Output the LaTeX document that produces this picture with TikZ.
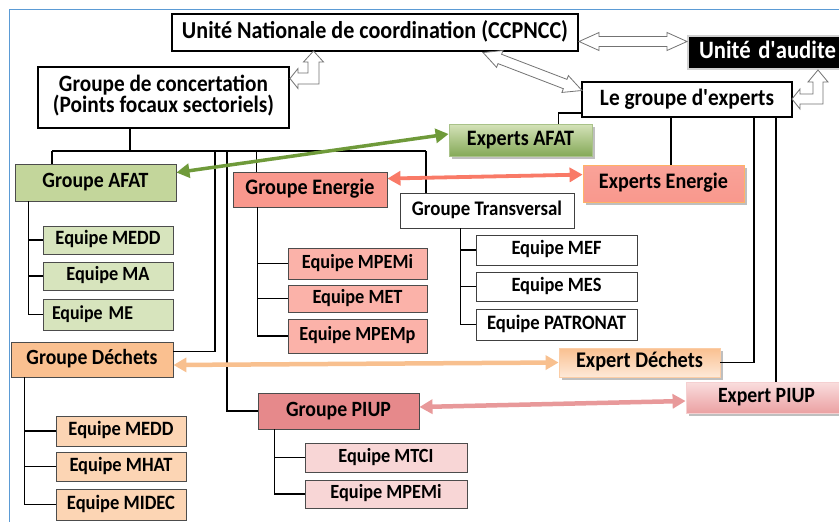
\documentclass[tikz,border=0pt]{standalone}
\usepackage{fontspec}
\setmainfont{Carlito}
\usepackage{graphicx}
\usetikzlibrary{arrows.meta,shadows,calc}
\definecolor{framec}{HTML}{5B9BD5}
\definecolor{cafat}{HTML}{C3D69B}
\definecolor{cafate}{HTML}{D7E4BD}
\definecolor{cener}{HTML}{F9988D}
\definecolor{cenere}{HTML}{FBB2A9}
\definecolor{cdec}{HTML}{FAC090}
\definecolor{cdece}{HTML}{FCD5B4}
\definecolor{cpiup}{HTML}{E6898B}
\definecolor{cpiupe}{HTML}{F8D6D6}
\definecolor{agreen}{HTML}{6F9A3A}
\definecolor{asalmon}{HTML}{F97A67}
\definecolor{apeach}{HTML}{F8C08F}
\definecolor{apink}{HTML}{E8999A}
\newcommand\fw[2]{\scalebox{1}[1.1]{\resizebox{#1pt}{!}{#2\strut}}}
\newcommand\apos{\textquotesingle}
\begin{document}
\begin{tikzpicture}[x=1pt,y=-1pt,
  treeline/.style={line width=1.6pt, black},
  bigbox/.style={draw=black, line width=1.8pt, fill=white, inner sep=0pt, font=\bfseries},
  gbox/.style={draw=black!70, line width=0.9pt, inner sep=0pt, font=\bfseries},
  wbox/.style={draw=black!75, line width=0.8pt, fill=white, inner sep=0pt, font=\bfseries},
  gradbox/.style={inner sep=0pt, line width=0.8pt, font=\bfseries,
     drop shadow={shadow xshift=2.5pt, shadow yshift=-2.5pt, opacity=0.25, fill=black}},
  hollow/.style={draw=black!55, fill=white, line width=0.8pt, line join=miter},
  colarrow/.style={line width=#1, {Triangle[length=13pt,width=14pt]}-{Triangle[length=13pt,width=14pt]}},
]
\path[use as bounding box] (0,0) rectangle (839,522);
\clip (0,0) rectangle (839,522);
\fill[white] (0,0) rectangle (839,522);
\draw[framec, line width=1.5pt] (9.5,522) -- (9.5,9.5) -- (839,9.5);

% top level
\node[bigbox, minimum width=406, minimum height=37] (unc) at (375,32.5)
  {\fw{386}{Unité Nationale de coordination (CCPNCC)}};
\node[draw=black!18, line width=2pt, fill=black, text=white, font=\bfseries,
  anchor=north west, minimum width=180, minimum height=33, inner xsep=11pt, inner ysep=0pt,
  text width=158pt, align=left] (audit) at (687,35) {\fw{137}{Unité d\apos audite}};
\node[bigbox, minimum width=251, minimum height=61, align=center,
  font=\bfseries\fontsize{10}{10}\selectfont] (conc) at (163.5,97.5)
  {\fw{209}{Groupe de concertation}\\[-4pt]\fw{221}{(Points focaux sectoriels)}};
\node[bigbox, minimum width=210, minimum height=35] (exp) at (687,99.5)
  {\fw{174}{Le groupe d\apos experts}};

% experts
\node[gradbox, draw=agreen!60, top color=cafat!70!white, bottom color=agreen!85!white,
  minimum width=143, minimum height=32] (xafat) at (520.5,140) {\fw{107}{Experts AFAT}};
\node[gradbox, draw=orange!60, top color=cener!90!white, bottom color=cener,
  minimum width=161, minimum height=37] (xen) at (663.5,183.5) {\fw{129}{Experts Energie}};
\node[gradbox, draw=cdec!80, top color=cdec, bottom color=cdec!35!white,
  minimum width=161, minimum height=29] (xdec) at (639.5,362.5) {\fw{127}{Expert Déchets}};
\node[gradbox, draw=cpiup!40, top color=cpiupe!80!white, bottom color=cpiup!80!white,
  minimum width=161, minimum height=31] (xpiup) at (766.5,397.5) {\fw{97}{Expert PIUP}};

% groupe AFAT
\node[gbox, fill=cafat, minimum width=161, minimum height=37] (gafat) at (95.5,182.5) {\fw{106}{Groupe AFAT}};
\node[gbox, fill=cafate, minimum width=130, minimum height=28] (ea1) at (108,240) {\fw{105}{Equipe MEDD}};
\node[gbox, fill=cafate, minimum width=130, minimum height=28] (ea2) at (108,276) {\fw{83}{Equipe MA}};
\node[gbox, fill=cafate, minimum width=130, minimum height=31, inner xsep=9pt,
  text width=112pt, align=left] (ea3) at (108,314.5) {\fw{81}{Equipe ME}};

% groupe Energie
\node[gbox, fill=cener, minimum width=154, minimum height=35] (gen) at (310,189.5) {\fw{129}{Groupe Energie}};
\node[gbox, fill=cenere, minimum width=139, minimum height=31] (ee1) at (357.5,263.5) {\fw{111}{Equipe MPEMi}};
\node[gbox, fill=cenere, minimum width=139, minimum height=27] (ee2) at (357.5,298.5) {\fw{90}{Equipe MET}};
\node[gbox, fill=cenere, minimum width=139, minimum height=34] (ee3) at (357.5,336) {\fw{116}{Equipe MPEMp}};

% groupe Transversal
\node[wbox, minimum width=174, minimum height=35] (gtr) at (487,210.5) {\fw{150}{Groupe Transversal}};
\node[wbox, minimum width=161, minimum height=30] (et1) at (556.5,250) {\fw{90}{Equipe MEF}};
\node[wbox, minimum width=161, minimum height=29] (et2) at (556.5,286.5) {\fw{90}{Equipe MES}};
\node[wbox, minimum width=161, minimum height=31] (et3) at (556.5,324.5) {\fw{139}{Equipe PATRONAT}};

% groupe Dechets
\node[gbox, fill=cdec, minimum width=162, minimum height=35] (gdec) at (92,359.5) {\fw{131}{Groupe Déchets}};
\node[gbox, fill=cdece, minimum width=130, minimum height=30] (ed1) at (121,431) {\fw{105}{Equipe MEDD}};
\node[gbox, fill=cdece, minimum width=130, minimum height=29] (ed2) at (121,466.5) {\fw{103}{Equipe MHAT}};
\node[gbox, fill=cdece, minimum width=130, minimum height=31] (ed3) at (121,504.5) {\fw{108}{Equipe MIDEC}};

% groupe PIUP
\node[gbox, fill=cpiup, minimum width=161, minimum height=36] (gpiup) at (338.5,411) {\fw{105}{Groupe PIUP}};
\node[gbox, fill=cpiupe, minimum width=162, minimum height=29] (ep1) at (386,457.5) {\fw{95}{Equipe MTCI}};
\node[gbox, fill=cpiupe, minimum width=162, minimum height=28] (ep2) at (386,494) {\fw{111}{Equipe MPEMi}};

% trees
\coordinate (ta) at ($(gafat.south west)+(14,0)$);
\draw[treeline] (ta) |- (ea1.west) (ta) |- (ea2.west) (ta) |- (ea3.west);
\coordinate (te) at ($(gen.south west)+(25,0)$);
\draw[treeline] (te) |- (ee1.west) (te) |- (ee2.west) (te) |- (ee3.west);
\coordinate (tt) at ($(gtr.south west)+(61,0)$);
\draw[treeline] (tt) |- (et1.west) (tt) |- (et2.west) (tt) |- (et3.west);
\coordinate (td) at ($(gdec.south west)+(14,0)$);
\draw[treeline] (td) |- (ed1.west) (td) |- (ed2.west) (td) |- (ed3.west);
\coordinate (tp) at ($(gpiup.south west)+(17,0)$);
\draw[treeline] (tp) |- (ep1.west) (tp) |- (ep2.west);

% bus from concertation
\coordinate (b0) at ($(conc.south west)+(93,0)$);
\coordinate (busL) at (52,151);
\coordinate (busR) at (426,151);
\coordinate (bD) at (215,151);
\coordinate (bP) at (227,151);
\draw[treeline] (b0) -- (b0 |- busL);
\draw[treeline] (busL) -- (busR);
\draw[treeline] (busL) -- (busL |- gafat.north);
\coordinate (eN) at ($(gen.north west)+(24,0)$);
\draw[treeline] (eN |- busL) -- (eN);
\draw[treeline] (busR) -- (busR |- gtr.north);
\coordinate (dE) at ($(gdec.north east)+(0,10)$);
\draw[treeline] (bD) |- (dE);
\draw[treeline] (bP) |- (gpiup.west);

% lines from le groupe d'experts
\coordinate (exL) at ($(exp.south west)+(0,-5)$);
\coordinate (xaN) at ($(xafat.north west)+(110,0)$);
\draw[treeline] (exL) -| (xaN);
\coordinate (s1) at ($(exp.south west)+(90,0)$);
\draw[treeline] (s1) -- (s1 |- xen.north);
\coordinate (s2) at ($(exp.south west)+(173,0)$);
\draw[treeline] (s2) |- (xdec.east);
\coordinate (s3) at ($(exp.south west)+(195,0)$);
\draw[treeline] (s3) -- (s3 |- xpiup.north);

% hollow block arrows
\draw[hollow] (579,41.5) -- ++(20,-9) -- ++(0,4) -- ++(68,0) -- ++(0,-4) -- ++(20,9)
  -- ++(-20,9) -- ++(0,-4) -- ++(-68,0) -- ++(0,4) -- cycle;
\begin{scope}[shift={(483,52.5)}, rotate=-21]
\draw[hollow] (0,0) -- (18,-9) -- (18,-5) -- (88,-5) -- (88,-9) -- (106,0)
  -- (88,9) -- (88,5) -- (18,5) -- (18,9) -- cycle;
\end{scope}
\draw[hollow] (290,78.5) -- (298,68.5) -- (298,73) -- (308,73) -- (308,62) -- (303.5,62)
  -- (313.5,51) -- (323.5,62) -- (319,62) -- (319,84) -- (298,84) -- (298,88.5) -- cycle;
\draw[hollow] (792,99) -- (800,89) -- (800,94) -- (813,94) -- (813,82) -- (808,82)
  -- (818,70) -- (828,82) -- (823,82) -- (823,104) -- (800,104) -- (800,109) -- cycle;

% coloured double arrows
\draw[colarrow=3.5pt, agreen] ($(gafat.north east)+(0,9)$) -- ($(xafat.west)+(0,-6)$);
\draw[colarrow=3.8pt, asalmon] ($(gen.north east)+(0,7)$) -- ($(xen.north west)+(0,10)$);
\draw[colarrow=4.5pt, apeach] ($(gdec.east)+(0,5.5)$) -- (xdec.west);
\draw[colarrow=4.5pt, apink] ($(gpiup.east)+(0,-4)$) -- ($(xpiup.west)+(0,3.5)$);
\end{tikzpicture}
\end{document}
